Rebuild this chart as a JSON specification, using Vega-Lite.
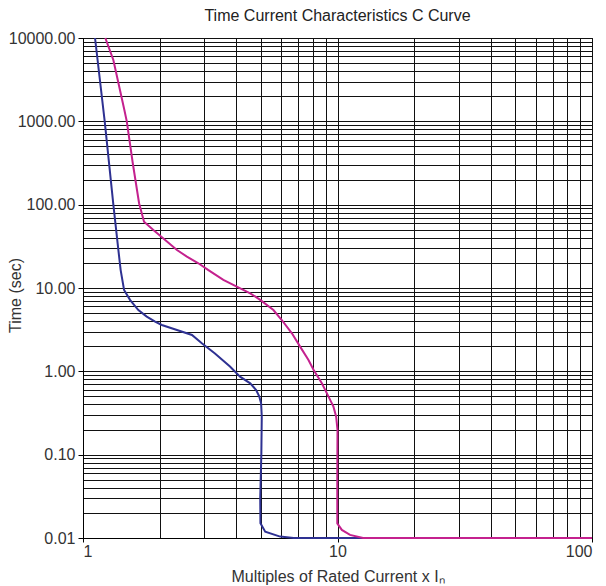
{
  "$schema": "https://vega.github.io/schema/vega-lite/v6.json",
  "width": 509,
  "height": 500,
  "autosize": {"type": "none"},
  "padding": {"left": 83, "top": 38, "right": 14, "bottom": 48},
  "background": "white",
  "title": {"text": "Time Current Characteristics C Curve", "font": "Liberation Sans", "fontSize": 16, "fontWeight": "normal", "color": "#222", "offset": 6},
  "config": {
    "view": {"stroke": "black", "strokeWidth": 1},
    "axis": {"labelFont": "Liberation Sans", "titleFont": "Liberation Sans", "labelFontSize": 16, "titleFontSize": 16, "titleFontWeight": "normal", "labelColor": "#333", "titleColor": "#333", "domainColor": "black", "tickColor": "black", "gridColor": "#111", "gridOpacity": 1, "gridWidth": 1, "labelOverlap": false}
  },
  "data": {"values": [
    {"s": "B", "i": 1, "x": 1.115, "y": 10000},
    {"s": "B", "i": 2, "x": 1.217, "y": 1000},
    {"s": "B", "i": 3, "x": 1.316, "y": 100},
    {"s": "B", "i": 4, "x": 1.377, "y": 28.6},
    {"s": "B", "i": 5, "x": 1.406, "y": 16.4},
    {"s": "B", "i": 6, "x": 1.45, "y": 9.46},
    {"s": "B", "i": 7, "x": 1.53, "y": 7.2},
    {"s": "B", "i": 8, "x": 1.65, "y": 5.44},
    {"s": "B", "i": 9, "x": 1.78, "y": 4.53},
    {"s": "B", "i": 10, "x": 1.92, "y": 3.94},
    {"s": "B", "i": 11, "x": 2.04, "y": 3.6},
    {"s": "B", "i": 12, "x": 2.34, "y": 3.13},
    {"s": "B", "i": 13, "x": 2.68, "y": 2.73},
    {"s": "B", "i": 14, "x": 2.93, "y": 2.17},
    {"s": "B", "i": 15, "x": 3.3, "y": 1.64},
    {"s": "B", "i": 16, "x": 3.78, "y": 1.14},
    {"s": "B", "i": 17, "x": 4.14, "y": 0.863},
    {"s": "B", "i": 18, "x": 4.54, "y": 0.718},
    {"s": "B", "i": 19, "x": 4.79, "y": 0.597},
    {"s": "B", "i": 20, "x": 4.93, "y": 0.497},
    {"s": "B", "i": 21, "x": 5.01, "y": 0.413},
    {"s": "B", "i": 22, "x": 5.04, "y": 0.286},
    {"s": "B", "i": 23, "x": 5.02, "y": 0.1},
    {"s": "B", "i": 24, "x": 4.97, "y": 0.03},
    {"s": "B", "i": 25, "x": 4.98, "y": 0.015},
    {"s": "B", "i": 26, "x": 5.2, "y": 0.0119},
    {"s": "B", "i": 27, "x": 5.95, "y": 0.0104},
    {"s": "B", "i": 28, "x": 6.72, "y": 0.01},
    {"s": "B", "i": 29, "x": 100, "y": 0.01},
    {"s": "M", "i": 1, "x": 1.224, "y": 10000},
    {"s": "M", "i": 2, "x": 1.316, "y": 5440},
    {"s": "M", "i": 3, "x": 1.454, "y": 1368},
    {"s": "M", "i": 4, "x": 1.486, "y": 1000},
    {"s": "M", "i": 5, "x": 1.569, "y": 314},
    {"s": "M", "i": 6, "x": 1.661, "y": 104},
    {"s": "M", "i": 7, "x": 1.737, "y": 62.5},
    {"s": "M", "i": 8, "x": 1.89, "y": 49.7},
    {"s": "M", "i": 9, "x": 2.34, "y": 28.6},
    {"s": "M", "i": 10, "x": 2.56, "y": 23.8},
    {"s": "M", "i": 11, "x": 2.84, "y": 19.8},
    {"s": "M", "i": 12, "x": 3.11, "y": 16.4},
    {"s": "M", "i": 13, "x": 3.56, "y": 12.5},
    {"s": "M", "i": 14, "x": 4.02, "y": 10.4},
    {"s": "M", "i": 15, "x": 4.54, "y": 8.63},
    {"s": "M", "i": 16, "x": 4.97, "y": 7.2},
    {"s": "M", "i": 17, "x": 5.6, "y": 5.44},
    {"s": "M", "i": 18, "x": 6.04, "y": 4.13},
    {"s": "M", "i": 19, "x": 6.62, "y": 2.86},
    {"s": "M", "i": 20, "x": 7.13, "y": 1.98},
    {"s": "M", "i": 21, "x": 7.69, "y": 1.37},
    {"s": "M", "i": 22, "x": 8.06, "y": 1.04},
    {"s": "M", "i": 23, "x": 8.68, "y": 0.718},
    {"s": "M", "i": 24, "x": 9.22, "y": 0.497},
    {"s": "M", "i": 25, "x": 9.64, "y": 0.377},
    {"s": "M", "i": 26, "x": 9.88, "y": 0.286},
    {"s": "M", "i": 27, "x": 10.0, "y": 0.198},
    {"s": "M", "i": 28, "x": 9.98, "y": 0.05},
    {"s": "M", "i": 29, "x": 9.98, "y": 0.015},
    {"s": "M", "i": 30, "x": 10.4, "y": 0.0125},
    {"s": "M", "i": 31, "x": 11.2, "y": 0.0109},
    {"s": "M", "i": 32, "x": 12.6, "y": 0.01},
    {"s": "M", "i": 33, "x": 100, "y": 0.01}
  ]},
  "mark": {"type": "line", "strokeWidth": 2, "clip": false},
  "encoding": {
    "x": {"field": "x", "type": "quantitative",
      "scale": {"type": "log", "domain": [1, 100], "nice": false},
      "axis": {"values": [1,2,3,4,5,6,7,8,9,10,20,30,40,50,60,70,80,90,100],
        "labelExpr": "indexof([1,10,100], datum.value) >= 0 ? format(datum.value, 'd') : ''",
        "tickSize": 4, "labelPadding": 1,
        "tickOpacity": {"condition": {"test": "indexof([1,10,100], datum.value) >= 0", "value": 1}, "value": 0},
        "title": "Multiples of Rated Current x Iₙ", "titleBaseline": "alphabetic", "titleY": 43}},
    "y": {"field": "y", "type": "quantitative",
      "scale": {"type": "log", "domain": [0.01, 10000], "nice": false},
      "axis": {"values": [0.01,0.02,0.03,0.04,0.05,0.06,0.07,0.08,0.09,0.1,0.2,0.3,0.4,0.5,0.6,0.7,0.8,0.9,1,2,3,4,5,6,7,8,9,10,20,30,40,50,60,70,80,90,100,200,300,400,500,600,700,800,900,1000,2000,3000,4000,5000,6000,7000,8000,9000,10000],
        "labelExpr": "indexof([0.01,0.1,1,10,100,1000,10000], datum.value) >= 0 ? format(datum.value, '.2f') : ''",
        "tickSize": 5, "labelPadding": 3,
        "tickOpacity": {"condition": {"test": "indexof([0.01,0.1,1,10,100,1000,10000], datum.value) >= 0", "value": 1}, "value": 0},
        "title": "Time (sec)", "titleAngle": -90, "titleX": -68, "titleY": 257, "titleAlign": "center", "titleBaseline": "middle"}},
    "color": {"field": "s", "type": "nominal", "scale": {"domain": ["B", "M"], "range": ["#2e3192", "#c4218e"]}, "legend": null},
    "order": {"field": "i", "type": "quantitative"}
  }
}
